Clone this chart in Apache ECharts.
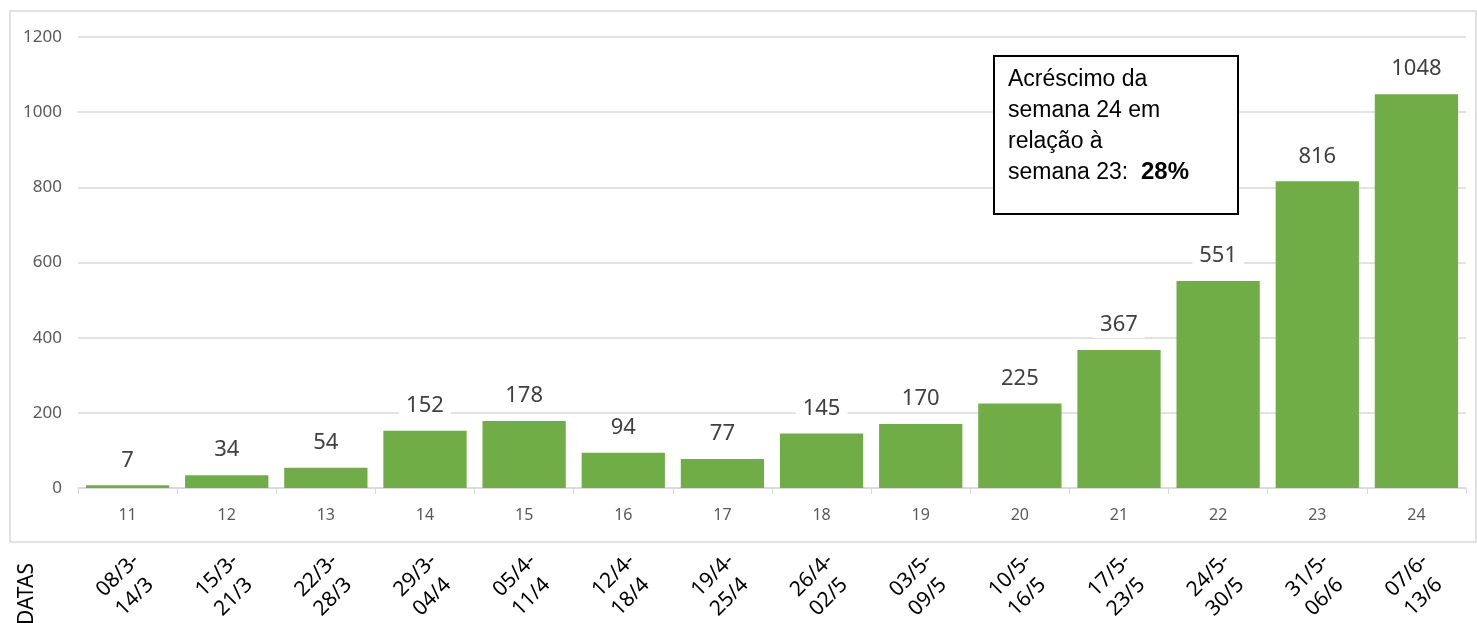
<!DOCTYPE html>
<html>
<head>
<meta charset="utf-8">
<script src="https://cdn.jsdelivr.net/npm/echarts@6/dist/echarts.min.js"></script>
<style>
html,body{margin:0;padding:0;background:#fff;}
#chart{width:1477px;height:623px;}
</style>
</head>
<body>
<div id="chart"></div>
<script>
const weeks = ['11','12','13','14','15','16','17','18','19','20','21','22','23','24'];
const dates = ['08/3-\n14/3','15/3-\n21/3','22/3-\n28/3','29/3-\n04/4','05/4-\n11/4','12/4-\n18/4','19/4-\n25/4','26/4-\n02/5','03/5-\n09/5','10/5-\n16/5','17/5-\n23/5','24/5-\n30/5','31/5-\n06/6','07/6-\n13/6'];
const cases = [7,34,54,152,178,94,77,145,170,225,367,551,816,1048];
const yTicks = {min:0, max:1200, interval:200};
const noteLines = ['Acréscimo da','semana 24 em','relação à','semana 23:  '];
const notePct = '28%';
const axisTitle = 'DATAS';

const chart = echarts.init(document.getElementById('chart'), null, {renderer:'canvas'});
chart.setOption({
  animation:false,
  backgroundColor:'#ffffff',
  grid:{left:78, right:11, top:37, bottom:135},
  xAxis:[{
    type:'category', data:weeks, position:'bottom',
    axisLine:{show:true, lineStyle:{color:'#d9d9d9', width:1.5}},
    axisTick:{show:true, length:6, lineStyle:{color:'#d9d9d9'}},
    axisLabel:{color:'#595959', fontSize:16, fontFamily:'Noto Sans', margin:19, interval:0}
  },{
    type:'category', data:dates, position:'bottom', offset:0,
    axisLine:{show:false}, axisTick:{show:false},
    axisLabel:{color:'#000', fontSize:21, fontFamily:'Noto Sans', rotate:45, align:'center', verticalAlign:'middle',
      margin:97, interval:0,
      formatter: v => v.split('\n').map(s => '{a|' + s + '}').join('\n'),
      rich:{a:{align:'left', color:'#000', fontSize:21, fontFamily:'Noto Sans', lineHeight:27}}}
  }],
  yAxis:{
    type:'value', min:yTicks.min, max:yTicks.max, interval:yTicks.interval,
    axisLine:{show:false}, axisTick:{show:false},
    axisLabel:{color:'#595959', fontSize:17, fontFamily:'Noto Sans', margin:16, formatter: v => String(v)},
    splitLine:{lineStyle:{color:'#d9d9d9', width:1.5}}
  },
  series:[{
    type:'bar', data:cases, xAxisIndex:0, barCategoryGap:'16%',
    itemStyle:{color:'#70AD47'},
    label:{show:true, position:'top', distance:12, color:'#404040', fontSize:22, fontFamily:'Noto Sans',
      backgroundColor:'#ffffff', padding:[2,7]}
  }],
  graphic:[
    {type:'rect', z:-10, shape:{x:10, y:11, width:1466, height:531}, style:{fill:'none', stroke:'#d9d9d9', lineWidth:1.5}},
    {type:'text', z:10, x:27, y:594, rotation:Math.PI/2,
      style:{text:axisTitle, fill:'#000', font:'21px "Noto Sans"', align:'center', verticalAlign:'middle'}},
    {type:'group', z:100, children:[
      {type:'rect', z:100, shape:{x:994, y:56, width:244, height:158}, style:{fill:'#ffffff', stroke:'#000', lineWidth:2}},
      {type:'text', z:101, x:1008, y:64,
        style:{text: noteLines.join('\n') + '{b|' + notePct + '}', fill:'#000', font:'23px "Liberation Sans"', lineHeight:31,
          rich:{b:{font:'bold 24px "Liberation Sans"', fill:'#000', lineHeight:31}}}}
    ]}
  ]
});
</script>
</body>
</html>
